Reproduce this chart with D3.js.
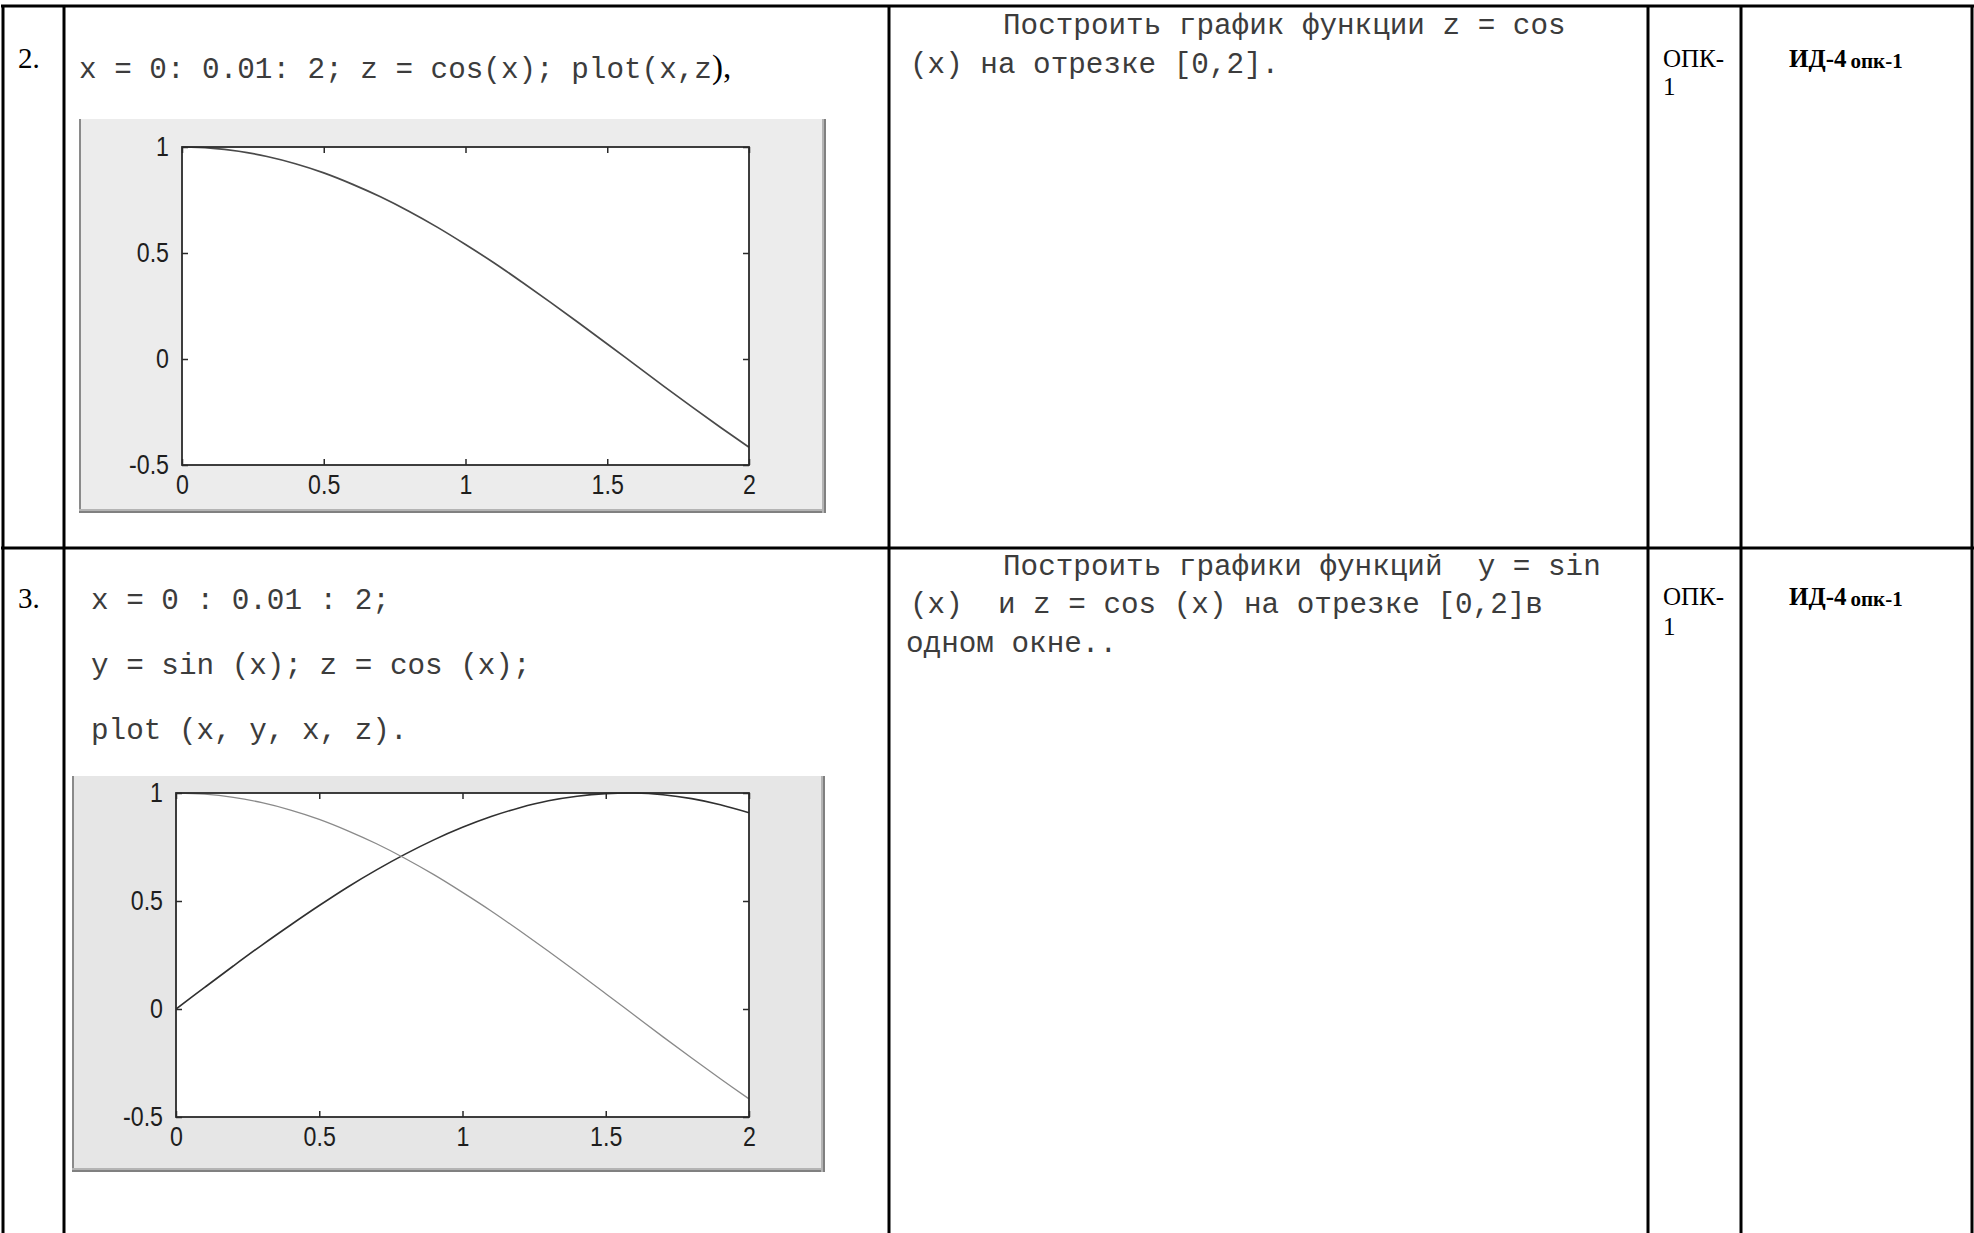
<!DOCTYPE html>
<html><head><meta charset="utf-8">
<script src="https://cdn.jsdelivr.net/npm/d3@7/dist/d3.min.js"></script>
<style>body{margin:0;background:#fff}svg{display:block}text{white-space:pre}</style>
</head><body>
<svg id="c" width="1974" height="1233"></svg>
<script>
// ---- data ----
const xValues   = [0,0.1,0.2,0.3,0.4,0.5,0.6,0.7,0.8,0.9,1.0,1.1,1.2,1.3,1.4,1.5,1.6,1.7,1.8,1.9,2.0];
const cosValues = [1,0.995,0.980,0.955,0.921,0.878,0.825,0.765,0.697,0.622,0.540,0.454,0.362,0.267,0.170,0.071,-0.029,-0.129,-0.227,-0.323,-0.416];
const sinValues = [0,0.100,0.199,0.296,0.389,0.479,0.565,0.644,0.717,0.783,0.841,0.891,0.932,0.964,0.985,0.997,1.000,0.992,0.974,0.946,0.909];
const xTicks = [0,0.5,1,1.5,2];
const xTickLabels = ["0","0.5","1","1.5","2"];
const yTicks = [-0.5,0,0.5,1];
const yTickLabels = ["-0.5","0","0.5","1"];
const rowNumbers = ["2.","3."];
const row2Code = ["x = 0: 0.01: 2; z = cos(x); plot(x,z", "),"];
const row3Code = ["x = 0 : 0.01 : 2;", "y = sin (x); z = cos (x);", "plot (x, y, x, z)."];
const row2Task = ["Построить график функции z = cos", "(x) на отрезке [0,2]."];
const row3Task = ["Построить графики функций  y = sin", "(x)  и z = cos (x) на отрезке [0,2]в", "одном окне.."];
const compLabel = ["ОПК-", "1"];
const indLabel = ["ИД-4", "опк-1"];

const svg = d3.select("#c");
svg.append("rect").attr("width",1974).attr("height",1233).attr("fill","#fff");

// ---- table grid ----
const grid = svg.append("g").attr("stroke","#000").attr("stroke-width",3);
grid.append("line").attr("x1",1).attr("x2",1974).attr("y1",6).attr("y2",6);
grid.append("line").attr("x1",1).attr("x2",1974).attr("y1",548).attr("y2",548);
[3,64,889,1648,1741,1972].forEach(x=>{
  grid.append("line").attr("x1",x).attr("x2",x).attr("y1",5).attr("y2",1233);
});

const mono = "'Liberation Mono','Courier New',monospace";
const serif = "'Liberation Serif','Times New Roman',serif";
const sans = "'Liberation Sans',Arial,Helvetica,sans-serif";
const monoFill = "#3c3c3c";

function txt(x,y,s,font,size,opts={}){
  const t = svg.append("text").attr("x",x).attr("y",y).text(s)
    .attr("font-family",font).attr("font-size",size).attr("fill",opts.fill||"#222");
  if(opts.weight) t.attr("font-weight",opts.weight);
  if(opts.anchor) t.attr("text-anchor",opts.anchor);
  return t;
}

// row numbers
txt(18,68,rowNumbers[0],serif,29,{fill:"#000"});
txt(18,608,rowNumbers[1],serif,29,{fill:"#000"});

// row 2 code
const c2 = txt(79,78,row2Code[0],mono,29.3,{fill:monoFill});
c2.append("tspan").text(row2Code[1]).attr("font-family",serif).attr("font-size",33).attr("fill","#000");

// row 3 code
row3Code.forEach((s,i)=>txt(91,609+i*65,s,mono,29.3,{fill:monoFill}));

// task text
txt(1003,34,row2Task[0],mono,29.3,{fill:monoFill});
txt(910,73,row2Task[1],mono,29.3,{fill:monoFill});
txt(1003,575,row3Task[0],mono,29.3,{fill:monoFill});
txt(910,613,row3Task[1],mono,29.3,{fill:monoFill});
txt(906,652,row3Task[2],mono,29.3,{fill:monoFill});

// competence columns
[[67,95],[605,635]].forEach(([y1,y2])=>{
  txt(1663,y1,compLabel[0],serif,25,{fill:"#000"});
  txt(1663,y2,compLabel[1],serif,25,{fill:"#000"});
  const t = txt(1789,y1,indLabel[0],serif,25,{fill:"#000",weight:"bold"});
  t.append("tspan").text(" ").attr("font-size",16);
  t.append("tspan").text(indLabel[1]).attr("font-size",21).attr("dy",1);
});

// ---- plots ----
const defs = svg.append("defs");
function drawPlot(cfg){
  const g = svg.append("g");
  const p = cfg.panel;
  g.append("rect").attr("x",p.x).attr("y",p.y).attr("width",p.w).attr("height",p.h).attr("fill",cfg.bg);
  // bevel
  g.append("rect").attr("x",p.x).attr("y",p.y).attr("width",2).attr("height",p.h).attr("fill","#8a8a8a");
  g.append("rect").attr("x",p.x).attr("y",p.y+p.h-4).attr("width",p.w).attr("height",2).attr("fill","#b4b4b4");
  g.append("rect").attr("x",p.x).attr("y",p.y+p.h-2).attr("width",p.w).attr("height",2).attr("fill","#808080");
  g.append("rect").attr("x",p.x+p.w-4).attr("y",p.y).attr("width",2).attr("height",p.h).attr("fill","#b4b4b4");
  g.append("rect").attr("x",p.x+p.w-2).attr("y",p.y).attr("width",2).attr("height",p.h).attr("fill","#808080");

  const a = cfg.axes;
  const x = d3.scaleLinear().domain([0,2]).range([a.x0,a.x1]);
  const y = d3.scaleLinear().domain([-0.5,1]).range([a.y1,a.y0]);
  g.append("rect").attr("x",a.x0).attr("y",a.y0).attr("width",a.x1-a.x0).attr("height",a.y1-a.y0)
    .attr("fill","#fff");

  const id = "clip"+cfg.id;
  defs.append("clipPath").attr("id",id).append("rect")
    .attr("x",a.x0).attr("y",a.y0-1).attr("width",a.x1-a.x0+1).attr("height",a.y1-a.y0+2);

  const line = d3.line().x((d,i)=>x(xValues[i])).y(d=>y(d)).curve(d3.curveCatmullRom);
  cfg.series.forEach(s=>{
    g.append("path").attr("d",line(s.values)).attr("fill","none")
      .attr("stroke",s.color).attr("stroke-width",s.width).attr("clip-path",`url(#${id})`);
  });

  const sx = 0.86;
  const axStyle = sel=>{
    sel.select(".domain").remove();
    sel.selectAll(".tick line").attr("stroke","#2a2a2a").attr("stroke-width",1.5);
    sel.selectAll(".tick text").attr("font-family",sans).attr("font-size",27).attr("fill","#1e1e1e")
      .attr("transform",`scale(${sx},1)`);
  };
  g.append("g").attr("transform",`translate(0,${a.y1})`)
    .call(d3.axisBottom(x).tickValues(xTicks).tickFormat((d,i)=>xTickLabels[i]).tickSize(-6).tickPadding(10))
    .call(axStyle);
  g.append("g").attr("transform",`translate(0,${a.y0})`)
    .call(d3.axisTop(x).tickValues(xTicks).tickFormat("").tickSize(-6)).call(axStyle);
  const gy = g.append("g").attr("transform",`translate(${a.x0},0)`)
    .call(d3.axisLeft(y).tickValues(yTicks).tickFormat((d,i)=>yTickLabels[i]).tickSize(-6).tickPadding(13))
    .call(axStyle);
  gy.selectAll(".tick text").attr("x",-13/sx);
  g.append("g").attr("transform",`translate(${a.x1},0)`)
    .call(d3.axisRight(y).tickValues(yTicks).tickFormat("").tickSize(-6)).call(axStyle);

  g.append("rect").attr("x",a.x0).attr("y",a.y0).attr("width",a.x1-a.x0).attr("height",a.y1-a.y0)
    .attr("fill","none").attr("stroke","#2a2a2a").attr("stroke-width",1.8);
}

drawPlot({id:1, bg:"#ececec",
  panel:{x:79,y:119,w:747,h:394},
  axes:{x0:182,x1:749,y0:147,y1:465},
  series:[{values:cosValues,color:"#4a4a4a",width:1.7}]});

drawPlot({id:2, bg:"#e6e6e6",
  panel:{x:72,y:776,w:753,h:396},
  axes:{x0:176,x1:749,y0:793,y1:1117},
  series:[{values:sinValues,color:"#303030",width:1.6},{values:cosValues,color:"#8a8a8a",width:1.3}]});
</script>
</body></html>
